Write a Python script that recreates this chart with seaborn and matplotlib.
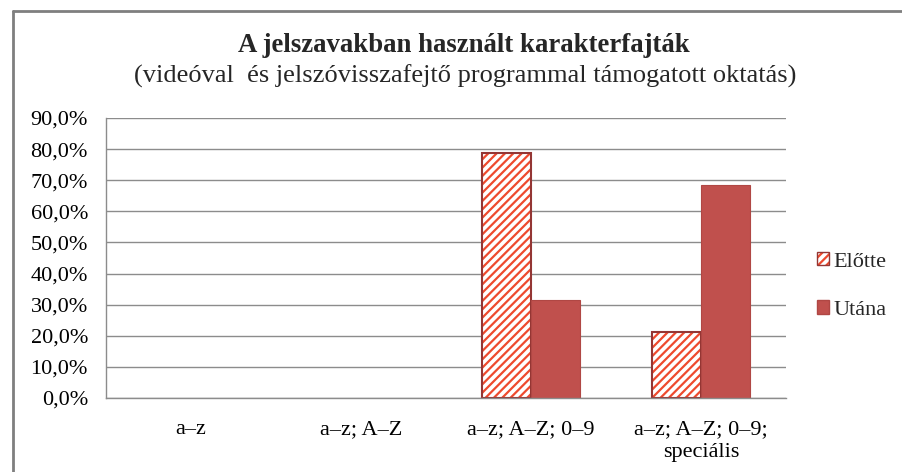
import matplotlib
matplotlib.use("Agg")
import matplotlib.pyplot as plt
import seaborn as sns
import pandas as pd
from matplotlib.lines import Line2D
from matplotlib.ticker import FuncFormatter, MultipleLocator
from matplotlib.patches import Patch

categories = ["a–z", "a–z; A–Z", "a–z; A–Z; 0–9", "a–z; A–Z; 0–9;\nspeciális"]
elotte = [0.0, 0.0, 78.9, 21.1]
utana = [0.0, 0.0, 31.6, 68.4]
series = ["Előtte", "Utána"]
title = "A jelszavakban használt karakterfajták"
subtitle = "(videóval  és jelszóvisszafejtő programmal támogatott oktatás)"

df = pd.DataFrame({
    "cat": categories * 2,
    "val": elotte + utana,
    "series": [series[0]] * len(categories) + [series[1]] * len(categories),
})

sns.set_theme(style="white")
plt.rcParams["font.family"] = ["Liberation Serif", "DejaVu Serif"]
plt.rcParams["hatch.linewidth"] = 1.6

fill_u = "#C0504D"
hatch_c = "#EE4A2E"
edge_e = "#943634"

fig = plt.figure(figsize=(9.02, 4.72), dpi=100)
ax = fig.add_axes([106/902, 1 - 398/472, (786-106)/902, (398-118)/472])

sns.barplot(data=df, x="cat", y="val", hue="series", palette=["white", fill_u],
            width=0.576, ax=ax, legend=False, saturation=1)

n = len(categories)
for i, bar in enumerate(ax.patches[:2*n]):
    h = bar.get_height()
    if i < n:
        bar.set_facecolor("white")
        bar.set_hatch("////")
        bar.set_edgecolor(edge_e)
        bar.set_linewidth(1.5 if h > 0 else 0)
    else:
        bar.set_facecolor(fill_u)
        bar.set_edgecolor("#B04744")
        bar.set_linewidth(0.8 if h > 0 else 0)

for bar in ax.patches[:n]:
    bar._hatch_color = matplotlib.colors.to_rgba(hatch_c)

ax.set_ylim(0, 90)
ax.set_xlim(-0.5, n - 0.5)
ax.yaxis.set_major_locator(MultipleLocator(10))
ax.yaxis.set_major_formatter(FuncFormatter(lambda v, p: f"{v:.1f}".replace(".", ",") + "%"))
ax.grid(axis="y", color="#8C8C8C", linewidth=1)
ax.set_axisbelow(True)
for s in ["top", "right"]:
    ax.spines[s].set_visible(False)
ax.spines["left"].set_color("#8C8C8C")
ax.spines["bottom"].set_color("#8C8C8C")
ax.spines["left"].set_linewidth(1)
ax.spines["bottom"].set_linewidth(1)
ax.set_xlabel("")
ax.set_ylabel("")
ax.tick_params(axis="y", labelsize=16, colors="black", length=0, pad=13)
ax.tick_params(axis="x", labelsize=16, colors="black", length=0, pad=16)
for lbl in ax.get_xticklabels():
    lbl.set_linespacing(1.3)

fig.text(464/902, 1 - 45/472, title, ha="center", va="center", fontsize=19.3, fontweight="bold")
fig.text(465/902, 1 - 76/472, subtitle, ha="center", va="center", fontsize=19)

handles = [Patch(facecolor="white", edgecolor=edge_e, hatch="////", label=series[0]),
           Patch(facecolor=fill_u, edgecolor="#B04744", label=series[1])]
leg = fig.legend(handles=handles, loc="center left", bbox_to_anchor=(817/902, 1 - 286/472),
                 frameon=False, fontsize=16, handlelength=0.55, handleheight=0.55,
                 handletextpad=0.2, labelspacing=1.3, borderpad=0, borderaxespad=0)
for h in leg.legend_handles[:1]:
    h._hatch_color = matplotlib.colors.to_rgba(hatch_c)

# figure border (top and left)
fig.add_artist(Line2D([13/902, 1], [1 - 11/472, 1 - 11/472], transform=fig.transFigure, color="#7F7F7F", linewidth=2))
fig.add_artist(Line2D([13/902, 13/902], [0, 1 - 11/472], transform=fig.transFigure, color="#7F7F7F", linewidth=2))

fig.savefig("out.png", dpi=100)
